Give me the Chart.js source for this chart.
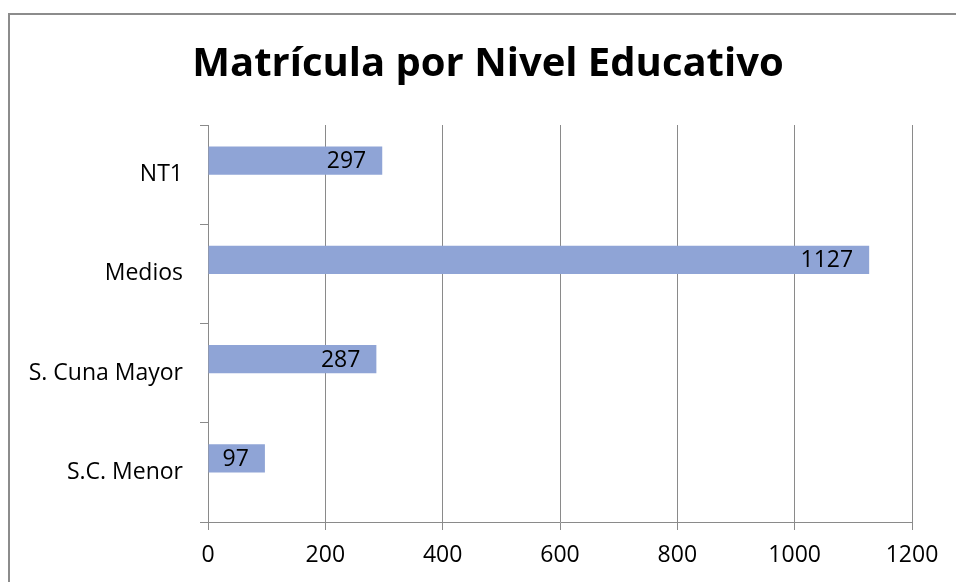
<!DOCTYPE html>
<html>
<head>
<meta charset="utf-8">
<script src="https://cdn.jsdelivr.net/npm/chart.js@4.4.1/dist/chart.umd.min.js"></script>
<style>
  html, body { margin: 0; padding: 0; background: #fff; overflow: hidden; }
  #wrap { position: relative; width: 956px; height: 582px; }
  #frame { position: absolute; left: 8px; top: 13px; width: 1200px; height: 900px; border: 2px solid #8c8c8c; box-sizing: border-box; }
  canvas { position: absolute; left: 0; top: 0; }
</style>
</head>
<body>
<div id="wrap">
  <div id="frame"></div>
  <canvas id="c" width="956" height="582"></canvas>
</div>
<script>
const chartTitle = 'Matrícula por Nivel Educativo';
const categories = ['NT1', 'Medios', 'S. Cuna Mayor', 'S.C. Menor'];
const matricula = [297, 1127, 287, 97];
const emptySeries = [null, null, null, null];
const xTicks = [0, 200, 400, 600, 800, 1000, 1200];

const FONT = '"Open Sans", Lato, sans-serif';
const GRID = '#8a8a8a';

const valueLabels = {
  id: 'valueLabels',
  afterDatasetsDraw(chart) {
    const ctx = chart.ctx;
    const meta = chart.getDatasetMeta(0);
    ctx.save();
    ctx.font = '23px ' + FONT;
    ctx.fillStyle = '#000';
    ctx.textAlign = 'right';
    ctx.textBaseline = 'middle';
    meta.data.forEach((el, i) => {
      ctx.fillText(String(matricula[i]), el.x - 16, el.y + 1);
    });
    ctx.restore();
  }
};

new Chart(document.getElementById('c'), {
  type: 'bar',
  data: {
    labels: categories,
    datasets: [
      { label: 'Matrícula', data: matricula, backgroundColor: '#8FA4D6', borderWidth: 0,
        categoryPercentage: 0.565, barPercentage: 1 },
      { label: '', data: emptySeries, backgroundColor: '#8FA4D6',
        categoryPercentage: 0.565, barPercentage: 1 }
    ]
  },
  options: {
    indexAxis: 'y',
    responsive: false,
    animation: false,
    layout: { padding: { left: 20, right: 0, top: 0, bottom: 0 } },
    plugins: {
      legend: { display: false },
      tooltip: { enabled: false },
      title: {
        display: true,
        text: chartTitle,
        color: '#000',
        font: { family: FONT, size: 40, weight: 'bold', lineHeight: 1.2 },
        padding: { top: 41, bottom: 36 }
      }
    },
    scales: {
      x: {
        min: 0, max: 1200,
        afterBuildTicks(scale) { scale.ticks = xTicks.map(v => ({ value: v })); },
        afterFit(scale) { scale.height = 60; scale.paddingRight = 44; },
        ticks: { color: '#000', font: { family: FONT, size: 23 }, padding: 12, maxRotation: 0,
                 callback: v => String(v) },
        grid: { color: GRID, lineWidth: 1, drawTicks: true, tickLength: 8, tickColor: GRID },
        border: { display: true, color: GRID, width: 1 }
      },
      y: {
        afterFit(scale) { scale.width = 188; },
        ticks: { color: '#000', font: { family: FONT, size: 23 }, padding: 17 },
        grid: { drawOnChartArea: false, drawTicks: true, tickLength: 8, tickColor: GRID, offset: true },
        border: { display: true, color: GRID, width: 1 }
      }
    }
  },
  plugins: [valueLabels]
});
</script>
</body>
</html>
